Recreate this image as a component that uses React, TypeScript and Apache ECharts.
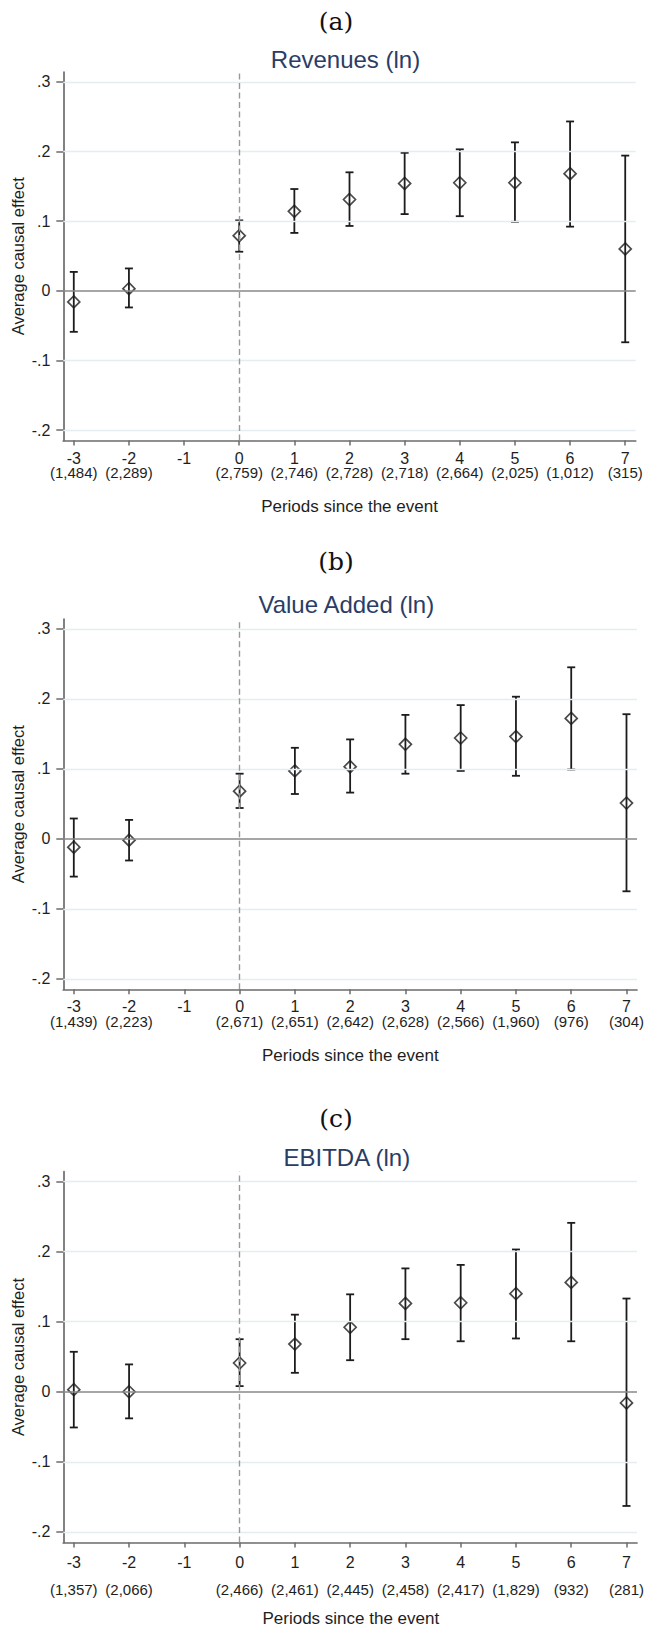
import React, { useEffect, useRef } from "react";
import * as echarts from "echarts";

// ---------- data ----------
const PERIODS = [-3, -2, 0, 1, 2, 3, 4, 5, 6, 7];
const X_TICKS = [-3, -2, -1, 0, 1, 2, 3, 4, 5, 6, 7];
const Y_TICKS = [-0.2, -0.1, 0, 0.1, 0.2, 0.3];

const PANEL_LABELS = ["(a)", "(b)", "(c)"];
const PANEL_TITLES = ["Revenues (ln)", "Value Added (ln)", "EBITDA (ln)"];
const Y_TITLE = "Average causal effect";
const X_TITLE = "Periods since the event";

const REV_EST = [-0.016, 0.003, 0.079, 0.114, 0.131, 0.154, 0.155, 0.155, 0.168, 0.06];
const REV_LO = [-0.059, -0.024, 0.056, 0.083, 0.093, 0.11, 0.107, 0.099, 0.092, -0.074];
const REV_HI = [0.027, 0.032, 0.101, 0.146, 0.17, 0.198, 0.203, 0.213, 0.243, 0.194];
const REV_COUNTS = ["(1,484)", "(2,289)", "", "(2,759)", "(2,746)", "(2,728)", "(2,718)", "(2,664)", "(2,025)", "(1,012)", "(315)"];

const VA_EST = [-0.012, -0.002, 0.068, 0.097, 0.103, 0.135, 0.144, 0.146, 0.172, 0.051];
const VA_LO = [-0.054, -0.031, 0.044, 0.064, 0.066, 0.093, 0.097, 0.09, 0.099, -0.075];
const VA_HI = [0.029, 0.027, 0.093, 0.13, 0.142, 0.177, 0.191, 0.203, 0.245, 0.178];
const VA_COUNTS = ["(1,439)", "(2,223)", "", "(2,671)", "(2,651)", "(2,642)", "(2,628)", "(2,566)", "(1,960)", "(976)", "(304)"];

const EB_EST = [0.003, 0.0, 0.041, 0.068, 0.092, 0.126, 0.127, 0.14, 0.156, -0.016];
const EB_LO = [-0.051, -0.038, 0.008, 0.027, 0.045, 0.075, 0.072, 0.076, 0.072, -0.163];
const EB_HI = [0.057, 0.039, 0.075, 0.11, 0.139, 0.176, 0.181, 0.203, 0.241, 0.133];
const EB_COUNTS = ["(1,357)", "(2,066)", "", "(2,466)", "(2,461)", "(2,445)", "(2,458)", "(2,417)", "(1,829)", "(932)", "(281)"];

const PANELS = [
  { est: REV_EST, lo: REV_LO, hi: REV_HI, counts: REV_COUNTS },
  { est: VA_EST, lo: VA_LO, hi: VA_HI, counts: VA_COUNTS },
  { est: EB_EST, lo: EB_LO, hi: EB_HI, counts: EB_COUNTS },
];

// ---------- layout / style ----------
const W = 647;
const H = 1626;
const GRID_LEFT = 63.3;
const X_MIN = -3.19;
const X_MAX = 7.19;
const Y_MIN = -0.215;
const Y_MAX = 0.314;

const LAYOUTS = [
  { top: 72, height: 368.5, width: 572.4, labelY: 21, titleY: 59, tickMargin: 9.5, countOffset: 24.5, xTitleY: 506.5 },
  { top: 619, height: 370.3, width: 574, labelY: 561, titleY: 604, tickMargin: 9.5, countOffset: 24.5, xTitleY: 1055 },
  { top: 1171.7, height: 370.7, width: 575, labelY: 1118, titleY: 1157, tickMargin: 12, countOffset: 40, xTitleY: 1618 },
];

const SANS = "'Liberation Sans', Arial, sans-serif";
const SERIF = "'DejaVu Serif', 'Liberation Serif', serif";
const INK = "#1c1c1c";
const AXIS_COLOR = "#6b6b6b";
const TEXT_COLOR = "#1e1e1e";
const TITLE_COLOR = "#2a3d66";
const GRID_COLOR = "#e4edf0";

function fmtY(v: number): string {
  const t = Math.round(v * 10);
  if (t === 0) return "0";
  return (t < 0 ? "-" : "") + "." + Math.abs(t);
}

function buildOption() {
  const grid: any[] = [];
  const xAxis: any[] = [];
  const yAxis: any[] = [];
  const series: any[] = [];
  const graphic: any[] = [];

  PANELS.forEach((p, k) => {
    const L = LAYOUTS[k];
    grid.push({ left: GRID_LEFT, top: L.top, width: L.width, height: L.height, containLabel: false });

    xAxis.push({
      type: "value",
      gridIndex: k,
      min: X_MIN,
      max: X_MAX,
      position: "bottom",
      axisLine: { show: true, onZero: false, lineStyle: { color: AXIS_COLOR, width: 1.7 } },
      axisTick: { show: true, length: 5, inside: false, customValues: X_TICKS, lineStyle: { color: AXIS_COLOR, width: 1.5 } },
      axisLabel: {
        customValues: X_TICKS,
        formatter: (v: number) => String(Math.round(v)),
        fontSize: 16,
        fontFamily: SANS,
        color: TEXT_COLOR,
        margin: L.tickMargin,
      },
      splitLine: { show: false },
    });
    xAxis.push({
      type: "value",
      gridIndex: k,
      min: X_MIN,
      max: X_MAX,
      position: "bottom",
      offset: L.countOffset,
      axisLine: { show: false },
      axisTick: { show: false },
      axisLabel: {
        customValues: X_TICKS,
        formatter: (v: number) => {
          const i = X_TICKS.indexOf(Math.round(v));
          return i >= 0 ? p.counts[i] : "";
        },
        fontSize: 15,
        fontFamily: SANS,
        color: TEXT_COLOR,
        margin: 0,
      },
      splitLine: { show: false },
    });

    yAxis.push({
      type: "value",
      gridIndex: k,
      min: Y_MIN,
      max: Y_MAX,
      axisLine: { show: true, onZero: false, lineStyle: { color: AXIS_COLOR, width: 1.7 } },
      axisTick: { show: true, length: 7, inside: false, customValues: Y_TICKS, lineStyle: { color: AXIS_COLOR, width: 1.5 } },
      axisLabel: {
        customValues: Y_TICKS,
        formatter: (v: number) => fmtY(v),
        fontSize: 16,
        fontFamily: SANS,
        color: TEXT_COLOR,
        margin: 13,
      },
      splitLine: { show: false },
    });

    const xi = k * 2;
    series.push({
      type: "line",
      xAxisIndex: xi,
      yAxisIndex: k,
      data: [[0, 0]],
      showSymbol: false,
      symbol: "none",
      lineStyle: { opacity: 0 },
      silent: true,
      z: 1,
      markLine: {
        silent: true,
        symbol: ["none", "none"],
        label: { show: false },
        animation: false,
        data: [
          ...Y_TICKS.filter((v) => Math.abs(v) > 1e-9).map((v) => ({ yAxis: v, lineStyle: { color: GRID_COLOR, width: 1.3, type: "solid" } })),
          { yAxis: 0, lineStyle: { color: "#888888", width: 1.5, type: "solid" } },
          { xAxis: 0, lineStyle: { color: "#999999", width: 1.4, type: [6, 3.5] } },
        ],
      },
    });
    series.push({
      type: "custom",
      xAxisIndex: xi,
      yAxisIndex: k,
      z: 3,
      data: PERIODS.map((x, i) => [x, p.lo[i], p.hi[i]]),
      encode: { x: 0, y: [1, 2] },
      renderItem: (params: any, api: any) => {
        const x = api.value(0);
        const lo = api.value(1);
        const hi = api.value(2);
        const a = api.coord([x, hi]);
        const b = api.coord([x, lo]);
        const hw = 4;
        const style = { stroke: INK, lineWidth: 1.8 };
        return {
          type: "group",
          children: [
            { type: "line", shape: { x1: a[0], y1: a[1], x2: b[0], y2: b[1] }, style },
            { type: "line", shape: { x1: a[0] - hw, y1: a[1], x2: a[0] + hw, y2: a[1] }, style },
            { type: "line", shape: { x1: b[0] - hw, y1: b[1], x2: b[0] + hw, y2: b[1] }, style },
          ],
        };
      },
    });
    series.push({
      type: "scatter",
      xAxisIndex: xi,
      yAxisIndex: k,
      z: 4,
      symbol: "diamond",
      symbolSize: [12, 12],
      itemStyle: { color: "rgba(0,0,0,0)", borderColor: INK, borderWidth: 1.7 },
      data: PERIODS.map((x, i) => [x, p.est[i]]),
    });

    const cx = GRID_LEFT + L.width / 2;
    graphic.push(
      {
        type: "text",
        x: 336,
        y: L.labelY,
        style: { text: PANEL_LABELS[k], fontSize: 25, fontFamily: SERIF, fill: "#111", align: "center", verticalAlign: "middle", textAlign: "center", textVerticalAlign: "middle" },
      },
      {
        type: "text",
        x: cx - 4,
        y: L.titleY,
        style: { text: PANEL_TITLES[k], fontSize: 24, fontFamily: SANS, fill: TITLE_COLOR, align: "center", verticalAlign: "middle", textAlign: "center", textVerticalAlign: "middle" },
      },
      {
        type: "text",
        x: 17.8,
        y: L.top + L.height / 2,
        rotation: Math.PI / 2,
        style: { text: Y_TITLE, fontSize: 16.5, fontFamily: SANS, fill: TEXT_COLOR, align: "center", verticalAlign: "middle", textAlign: "center", textVerticalAlign: "middle" },
      },
      {
        type: "text",
        x: cx,
        y: L.xTitleY,
        style: { text: X_TITLE, fontSize: 17, fontFamily: SANS, fill: TEXT_COLOR, align: "center", verticalAlign: "middle", textAlign: "center", textVerticalAlign: "middle" },
      }
    );
  });

  return {
    animation: false,
    backgroundColor: "#ffffff",
    grid,
    xAxis,
    yAxis,
    series,
    graphic,
  };
}

export default function App() {
  const ref = useRef<HTMLDivElement>(null);
  useEffect(() => {
    if (!ref.current) return;
    const chart = echarts.init(ref.current, undefined, { renderer: "svg" });
    chart.setOption(buildOption() as any);
    return () => chart.dispose();
  }, []);
  return <div ref={ref} style={{ position: "absolute", left: 0, top: 0, width: W, height: H }} />;
}
